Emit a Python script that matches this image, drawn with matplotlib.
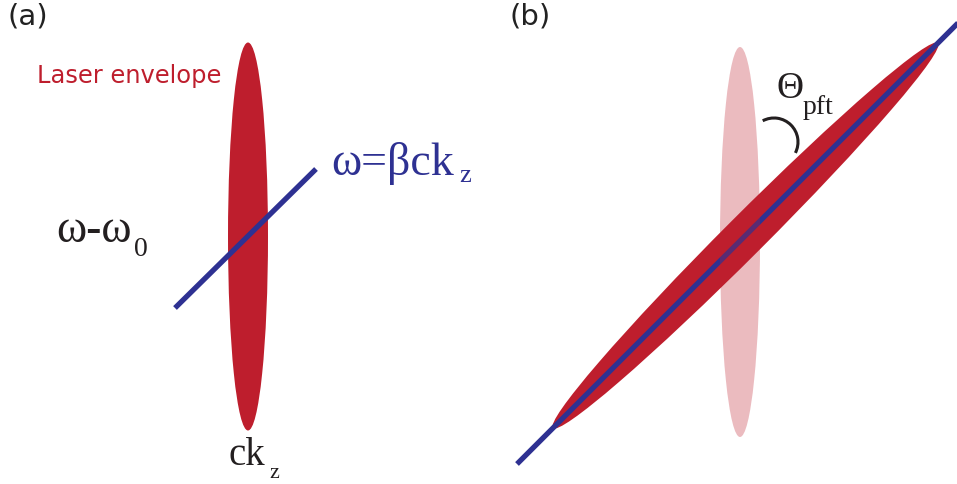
import numpy as np
import matplotlib.pyplot as plt
from matplotlib.patches import Ellipse, Arc

RED = '#BE1E2D'
BLUE = '#2E3192'
INK = '#231F20'
SERIF = ['Liberation Serif', 'DejaVu Serif']
SANS = ['DejaVu Sans']

# canvas works in pixel units: x to the right, y downward
W, H = 957, 484

# panel (a): upright envelope and dispersion line
env_a_center = (248, 236.5)
env_a_size = (40, 388)
line_a_x = [175, 316]
line_a_y = [308, 169]

# panel (b): tilted envelope (pulse front tilt), ghost of the upright one
env_b_tips_x = [553, 938]
env_b_tips_y = [428, 43]
env_b_thickness = 40
ghost_center = (740, 242)
ghost_size = (40, 390)
line_b_x = [517, 962]
line_b_y = [464, 19]

# tilt angle marker
arc_center = (774, 142)
arc_radius = 24
arc_span = (-118, 27)

fig = plt.figure(figsize=(W / 100, H / 100), dpi=100)
ax = fig.add_axes([0, 0, 1, 1])
ax.set_xlim(0, W)
ax.set_ylim(H, 0)
ax.axis('off')

# ---- (a) ----
ax.add_patch(Ellipse(env_a_center, *env_a_size, color=RED, lw=0, zorder=1))
ax.plot(line_a_x, line_a_y, color=BLUE, lw=3.8, solid_capstyle='butt', zorder=2)

ax.text(7, 25, '(a)', fontsize=21, family=SANS, color='#222222', va='baseline')
ax.text(37, 83, 'Laser envelope', fontsize=17.4, family=SANS, color=RED, va='baseline')

ax.text(56, 242, 'ω-ω', fontsize=33, family=SERIF, color=INK, va='baseline')
ax.text(134, 256, '0', fontsize=20, family=SERIF, color=INK, va='baseline')

ax.text(331, 175, 'ω=βck', fontsize=33, family=SERIF, color=BLUE, va='baseline')
ax.text(459, 182, 'z', fontsize=19, family=SERIF, color=BLUE, va='baseline')

ax.text(229, 465, 'ck', fontsize=28, family=SERIF, color=INK, va='baseline')
ax.text(269, 478, 'z', fontsize=16, family=SERIF, color=INK, va='baseline')

# ---- (b) ----
cx = np.mean(env_b_tips_x)
cy = np.mean(env_b_tips_y)
length = np.hypot(np.diff(env_b_tips_x)[0], np.diff(env_b_tips_y)[0])
tilt = np.degrees(np.arctan2(np.diff(env_b_tips_y)[0], np.diff(env_b_tips_x)[0]))
ax.add_patch(Ellipse((cx, cy), length, env_b_thickness, angle=tilt,
                     color=RED, lw=0, zorder=1))
ax.plot(line_b_x, line_b_y, color=BLUE, lw=3.8, solid_capstyle='butt', zorder=2)
# untilted envelope shown faintly on top
ax.add_patch(Ellipse(ghost_center, *ghost_size, color=RED, alpha=0.3, lw=0, zorder=3))

ax.add_patch(Arc(arc_center, 2 * arc_radius, 2 * arc_radius,
                 theta1=arc_span[0], theta2=arc_span[1], color=INK, lw=2.2, zorder=4))

ax.text(510, 25, '(b)', fontsize=21, family=SANS, color='#222222', va='baseline')
ax.text(776, 98, 'Θ', fontsize=27, family=SERIF, color=INK, va='baseline')
ax.text(803, 114, 'pft', fontsize=20, family=SERIF, color=INK, va='baseline')

fig.savefig('out.png', dpi=100)
